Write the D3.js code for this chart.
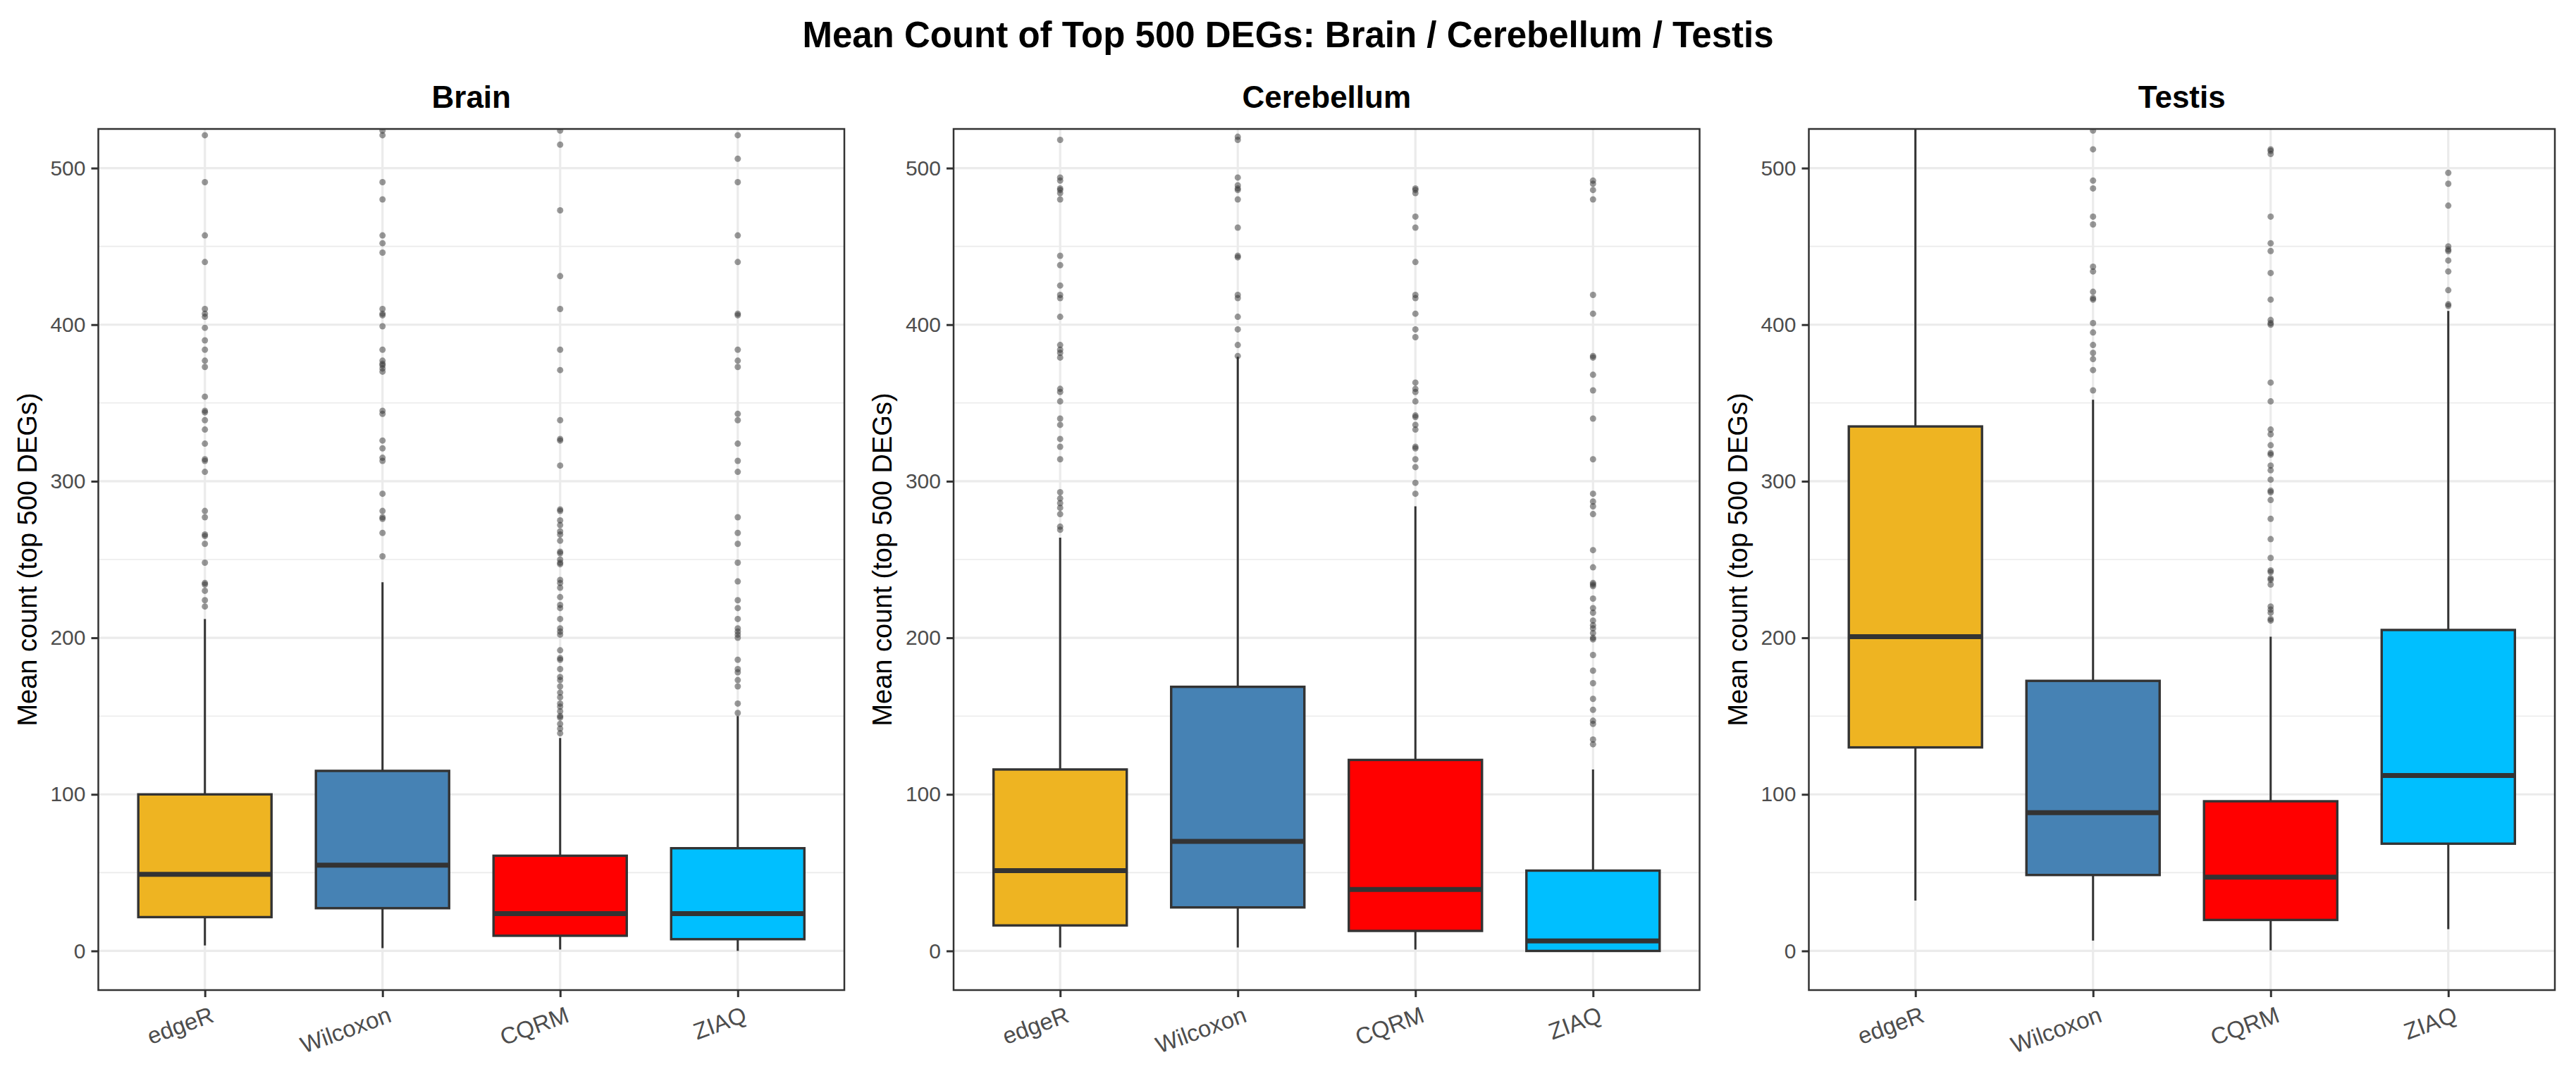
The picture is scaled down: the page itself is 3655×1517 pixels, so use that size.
<!DOCTYPE html>
<html>
<head>
<meta charset="utf-8">
<script src="https://cdn.jsdelivr.net/npm/d3@7"></script>
<style>
  body { margin: 0; background: #fff; }
  text { font-family: "Liberation Sans", Arial, Helvetica, sans-serif; }
</style>
</head>
<body>
<svg id="chart"></svg>
<script>
var methods = ["edgeR", "Wilcoxon", "CQRM", "ZIAQ"];
var tissues = ["Brain", "Cerebellum", "Testis"];
var yTicks = [0, 100, 200, 300, 400, 500];
var yMinor = [50, 150, 250, 350, 450];

// per method: [lower whisker, Q1, median, Q3, upper whisker]
var brainBox = [[3.5, 21.6, 48.9, 100, 212], [1.8, 27.3, 54.8, 115, 235.5], [0.9, 9.7, 23.8, 60.8, 136], [0, 7.5, 23.8, 65.6, 150]];
var cerebellumBox = [[2.2, 16.3, 51.3, 115.9, 264], [2.2, 27.8, 70, 168.7, 379.5], [0.9, 12.8, 39.2, 122, 284], [0, 0, 6.4, 51.3, 115.9]];
var testisBox = [[32.2, 130, 200.7, 335, 600], [6.6, 48.5, 88.3, 172.5, 352], [0.4, 19.8, 47.1, 95.6, 200.7], [13.9, 68.5, 112, 205, 408.8]];

// outliers per method
var brainOut = [
  [521, 491, 457, 440, 410, 407, 405, 398, 390, 384, 377, 373, 354, 345, 344, 339, 333, 324, 314, 313, 306, 281, 277, 266, 265, 260, 248, 235, 234, 230, 224, 220],
  [524, 521, 491, 480, 457, 452, 446, 410, 407, 406, 399, 384, 377, 375, 374, 372, 370, 345, 343, 326, 321, 315, 313, 292, 281, 277, 276, 267, 252],
  [524, 515, 473, 431, 410, 384, 371, 339, 327, 326, 310, 282, 281, 275, 272, 268, 266, 262, 255, 254, 250, 248, 247, 237, 235, 232, 226, 221, 219, 212, 206, 204, 202, 192, 187, 186, 180, 175, 173, 169, 165, 162, 158, 156, 153, 150, 149, 145, 142, 139],
  [521, 506, 491, 457, 440, 407, 406, 384, 377, 373, 343, 339, 324, 313, 306, 277, 267, 260, 248, 236, 224, 219, 212, 206, 204, 202, 200, 186, 180, 178, 173, 169, 158, 152]
];
var cerebellumOut = [
  [518, 494, 492, 487, 486, 484, 480, 444, 438, 425, 419, 417, 405, 387, 384, 382, 379, 359, 357, 351, 340, 336, 327, 322, 314, 293, 289, 286, 283, 279, 271, 269],
  [520, 518, 494, 489, 487, 486, 480, 462, 444, 443, 419, 417, 405, 397, 387, 380],
  [487, 486, 484, 469, 462, 440, 419, 417, 407, 397, 392, 363, 359, 357, 351, 342, 341, 336, 333, 322, 321, 314, 309, 299, 292],
  [492, 490, 486, 480, 419, 407, 380, 379, 368, 358, 340, 314, 292, 287, 284, 279, 256, 245, 235, 234, 233, 225, 219, 216, 211, 208, 206, 203, 200, 199, 189, 179, 171, 161, 154, 147, 145, 135, 132]
];
var testisOut = [
  [],
  [524, 512, 492, 487, 469, 464, 437, 434, 421, 417, 416, 401, 395, 387, 382, 378, 371, 358],
  [512, 511, 509, 469, 452, 447, 433, 416, 403, 401, 400, 363, 351, 333, 330, 323, 318, 317, 310, 307, 301, 294, 293, 288, 276, 263, 251, 243, 242, 238, 237, 234, 220, 218, 216, 212, 211],
  [497, 490, 476, 450, 448, 447, 441, 434, 422, 413, 412]
];

var fills = ["#EEB422", "#4682B4", "#FF0000", "#00BFFF"];

var boxes = [brainBox, cerebellumBox, testisBox];
var outs = [brainOut, cerebellumOut, testisOut];

var W = 3655, H = 1517;
var panelTop = 183, panelBottom = 1405, panelW = 1058.5;
var panelLefts = [139.5, 1353, 2566.5];

var svg = d3.select("#chart").attr("width", W).attr("height", H);

svg.append("text")
    .attr("x", W / 2).attr("y", 67)
    .attr("text-anchor", "middle")
    .style("font-size", "51px").style("font-weight", "bold")
    .text("Mean Count of Top 500 DEGs: Brain / Cerebellum / Testis");

var y = d3.scaleLinear().domain([-25, 525]).range([panelBottom, panelTop]);
var x = d3.scalePoint().domain(methods).range([0, panelW]).padding(0.6);
var bw = x.step() * 0.75;

tissues.forEach(function(tissue, p) {
  var g = svg.append("g").attr("transform", "translate(" + panelLefts[p] + ",0)");

  g.append("clipPath").attr("id", "clip" + p)
    .append("rect").attr("x", 0).attr("y", panelTop)
    .attr("width", panelW).attr("height", panelBottom - panelTop);

  // grid
  g.selectAll(".minor").data(yMinor).enter().append("line")
      .attr("x1", 0).attr("x2", panelW)
      .attr("y1", function(d) { return y(d); }).attr("y2", function(d) { return y(d); })
      .style("stroke", "#EBEBEB").style("stroke-width", 1.6);
  g.selectAll(".major").data(yTicks).enter().append("line")
      .attr("x1", 0).attr("x2", panelW)
      .attr("y1", function(d) { return y(d); }).attr("y2", function(d) { return y(d); })
      .style("stroke", "#EBEBEB").style("stroke-width", 3.2);
  g.selectAll(".vmajor").data(methods).enter().append("line")
      .attr("x1", function(d) { return x(d); }).attr("x2", function(d) { return x(d); })
      .attr("y1", panelTop).attr("y2", panelBottom)
      .style("stroke", "#EBEBEB").style("stroke-width", 3.2);

  var plot = g.append("g").attr("clip-path", "url(#clip" + p + ")");

  methods.forEach(function(m, i) {
    var s = boxes[p][i];
    var cx = x(m);
    var bg = plot.append("g");
    // whiskers
    bg.append("line").attr("x1", cx).attr("x2", cx).attr("y1", y(s[3])).attr("y2", y(s[4]))
        .style("stroke", "#333333").style("stroke-width", 3);
    bg.append("line").attr("x1", cx).attr("x2", cx).attr("y1", y(s[1])).attr("y2", y(s[0]))
        .style("stroke", "#333333").style("stroke-width", 3);
    // box
    bg.append("rect")
        .attr("x", cx - bw / 2).attr("width", bw)
        .attr("y", y(s[3])).attr("height", y(s[1]) - y(s[3]))
        .style("fill", fills[i]).style("stroke", "#333333").style("stroke-width", 3.4);
    // median
    bg.append("line").attr("x1", cx - bw / 2).attr("x2", cx + bw / 2)
        .attr("y1", y(s[2])).attr("y2", y(s[2]))
        .style("stroke", "#333333").style("stroke-width", 7);
    // outliers
    bg.selectAll("circle").data(outs[p][i]).enter().append("circle")
        .attr("cx", cx).attr("cy", function(d) { return y(d); })
        .attr("r", 4.5)
        .style("fill", "#333333").style("fill-opacity", 0.5);
  });

  // border
  g.append("rect").attr("x", 0).attr("y", panelTop)
      .attr("width", panelW).attr("height", panelBottom - panelTop)
      .style("fill", "none").style("stroke", "#333333").style("stroke-width", 2.5);

  // y axis
  var ya = g.append("g")
      .call(d3.axisLeft(y).tickValues(yTicks).tickSize(10).tickPadding(8));
  ya.select(".domain").remove();
  ya.selectAll("line").style("stroke", "#333333").style("stroke-width", 3);
  ya.selectAll("text").style("font-size", "30px").style("fill", "#4D4D4D")
      .style("font-family", "'Liberation Sans', Arial, sans-serif");

  // x axis
  var xa = g.append("g").attr("transform", "translate(0," + panelBottom + ")")
      .call(d3.axisBottom(x).tickSize(10));
  xa.select(".domain").remove();
  xa.selectAll("line").style("stroke", "#333333").style("stroke-width", 3);
  xa.selectAll("text")
      .attr("y", null).attr("dy", "0.72em")
      .attr("transform", "translate(6,22) rotate(-20)")
      .attr("text-anchor", "end")
      .style("font-size", "33px").style("fill", "#4D4D4D")
      .style("font-family", "'Liberation Sans', Arial, sans-serif");

  // panel title
  g.append("text")
      .attr("x", panelW / 2).attr("y", 153)
      .attr("text-anchor", "middle")
      .style("font-size", "44px").style("font-weight", "bold")
      .text(tissue);

  // y title
  g.append("text")
      .attr("transform", "translate(-88," + ((panelTop + panelBottom) / 2) + ") rotate(-90)")
      .attr("text-anchor", "middle")
      .style("font-size", "38px")
      .text("Mean count (top 500 DEGs)");
});
</script>
</body>
</html>
